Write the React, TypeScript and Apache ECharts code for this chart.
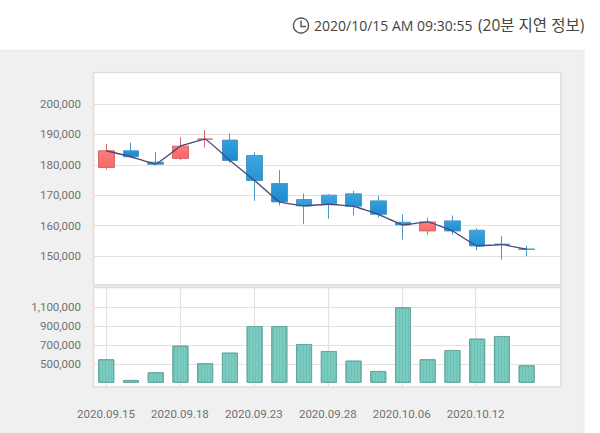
import React, { useEffect, useRef } from "react";
import * as echarts from "echarts";

const dates = ["2020.09.15","2020.09.16","2020.09.17","2020.09.18","2020.09.21","2020.09.22","2020.09.23","2020.09.24","2020.09.25","2020.09.28","2020.09.29","2020.10.05","2020.10.06","2020.10.07","2020.10.08","2020.10.12","2020.10.13","2020.10.14"];
const tickDates = ["2020.09.15","2020.09.18","2020.09.23","2020.09.28","2020.10.06","2020.10.12"];
const opens  = [179120,184615,180880,182090,188460,188130,183075,173840,168570,170000,170437,168129,161095,158238,161535,158458,153900,152250];
const closes = [184615,182640,180220,186150,188460,181430,174830,167800,166480,167030,166370,163733,160216,161205,158238,153293,153730,152194];
const lows   = [178460,182420,180000,181540,185710,180660,168130,166590,160436,162300,163400,162634,155380,156920,156920,151864,148787,149886];
const highs  = [186810,187250,184175,189120,191430,190330,184175,178240,170547,170330,171426,169887,163733,162634,163293,159117,156480,153400];
const volumes = [552600,334700,415800,695800,510500,622000,903000,903000,713700,640000,538000,429500,1100000,552600,650500,769500,797900,489500];
const headerTime = "2020/10/15 AM 09:30:55";
const headerNote = "(20분 지연 정보)";

const FONT = 'Roboto, "Noto Sans CJK KR", sans-serif';
const HEADER_FONT = '"Open Sans", "Noto Sans CJK KR", sans-serif';
const fmt = (v: number) => v.toLocaleString("en-US");
const GRID_LINE = "#e2e2e2";
const LABEL = "#707070";

const hiddenCat = (gridIndex: number, data: string[]) => ({
  type: "category" as const, gridIndex, data, show: false,
});

export default function App() {
  const ref = useRef<HTMLDivElement>(null);
  useEffect(() => {
    document.body.style.margin = "0";
    const chart = echarts.init(ref.current!, null, { renderer: "svg" });
    const blue = new echarts.graphic.LinearGradient(0, 0, 0, 1, [
      { offset: 0, color: "#43a6e0" }, { offset: 1, color: "#1589d0" },
    ]);
    const red = new echarts.graphic.LinearGradient(0, 0, 0, 1, [
      { offset: 0, color: "#ff8585" }, { offset: 1, color: "#fb6565" },
    ]);
    const frame = (y: number, h: number) => ({
      type: "rect", z: -5, silent: true,
      shape: { x: 93.5, y, width: 467.5, height: h },
      style: { fill: "#ffffff", stroke: "#dddddd", lineWidth: 1.5 },
    });
    chart.setOption({
      animation: false,
      graphic: [
        { type: "rect", z: -10, silent: true, shape: { x: -1, y: 50.5, width: 585, height: 384 },
          style: { fill: "#f0f0f0", stroke: "#e8e8e8", lineWidth: 1 } },
        frame(72.5, 212.5),
        frame(287.5, 99.5),
        { type: "circle", shape: { cx: 301, cy: 25.5, r: 7.5 }, style: { fill: "none", stroke: "#555555", lineWidth: 1.4 } },
        { type: "polyline", shape: { points: [[301, 20.5], [301, 26.5], [306, 26.5]] }, style: { fill: "none", stroke: "#555555", lineWidth: 1.4 } },
        { type: "text", x: 314, y: 25, style: { text: headerTime, font: `14px ${HEADER_FONT}`, fill: "#444444", verticalAlign: "middle", align: "left" } },
        { type: "text", x: 478, y: 25, style: { text: headerNote, font: `15.5px ${HEADER_FONT}`, fill: "#444444", verticalAlign: "middle", align: "left" } },
      ],
      grid: [
        { left: 93, width: 468, top: 104, height: 152 },
        { left: 93.9, width: 445.1, top: 73.67, height: 212.67 },
        { left: 93, width: 468, top: 307.3, height: 57 },
        { left: 93.9, width: 445.1, top: 307.3, height: 75 },
        { left: 106, width: 369.7, top: 287.5, height: 99.5 },
      ],
      xAxis: [
        hiddenCat(0, dates),
        hiddenCat(1, dates),
        hiddenCat(2, dates),
        hiddenCat(3, dates),
        {
          type: "category", gridIndex: 4, data: tickDates, boundaryGap: false,
          axisLine: { show: false }, axisTick: { show: false },
          axisLabel: { color: LABEL, fontFamily: FONT, fontSize: 11.5, margin: 21, interval: 0 },
          splitLine: { show: true, interval: 0, lineStyle: { color: GRID_LINE, width: 1.2 } },
        },
      ],
      yAxis: [
        {
          type: "value", gridIndex: 0, min: 150000, max: 200000, interval: 10000,
          axisLine: { show: false }, axisTick: { show: false },
          axisLabel: { color: LABEL, fontFamily: FONT, fontSize: 11.5, margin: 12, formatter: fmt },
          splitLine: { lineStyle: { color: GRID_LINE, width: 1.2 } },
        },
        { type: "value", gridIndex: 1, min: 140000, max: 210000, show: false, splitLine: { show: false } },
        {
          type: "value", gridIndex: 2, min: 500000, max: 1100000, interval: 200000,
          axisLine: { show: false }, axisTick: { show: false },
          axisLabel: { color: LABEL, fontFamily: FONT, fontSize: 11.5, margin: 12, formatter: fmt },
          splitLine: { lineStyle: { color: GRID_LINE, width: 1.2 } },
        },
        { type: "value", gridIndex: 3, min: 310000, max: 1100000, show: false, splitLine: { show: false } },
        { type: "value", gridIndex: 4, show: false, splitLine: { show: false } },
      ],
      series: [
        {
          type: "candlestick", xAxisIndex: 1, yAxisIndex: 1, barWidth: 16,
          data: dates.map((_, i) => [opens[i], closes[i], lows[i], highs[i]]),
          itemStyle: { color: red, color0: blue, borderColor: "#d56a6a", borderColor0: "#4a98c8", borderWidth: 1 },
        },
        {
          type: "line", xAxisIndex: 1, yAxisIndex: 1, data: closes, smooth: 0.06, showSymbol: false,
          lineStyle: { color: "#4c4a78", width: 1.4 }, z: 5,
        },
        {
          type: "bar", xAxisIndex: 3, yAxisIndex: 3, data: volumes, barWidth: 16,
          itemStyle: {
            color: "#7accc1", borderColor: "#69a8a0", borderWidth: 1,
            decal: { symbol: "rect", color: "rgba(90,170,160,0.35)", dashArrayX: [1, 2], dashArrayY: [4, 0], symbolSize: 1, rotation: 0 },
          },
        },
      ],
    });
    return () => chart.dispose();
  }, []);
  return <div ref={ref} style={{ position: "absolute", left: 0, top: 0, width: 600, height: 433 }} />;
}
